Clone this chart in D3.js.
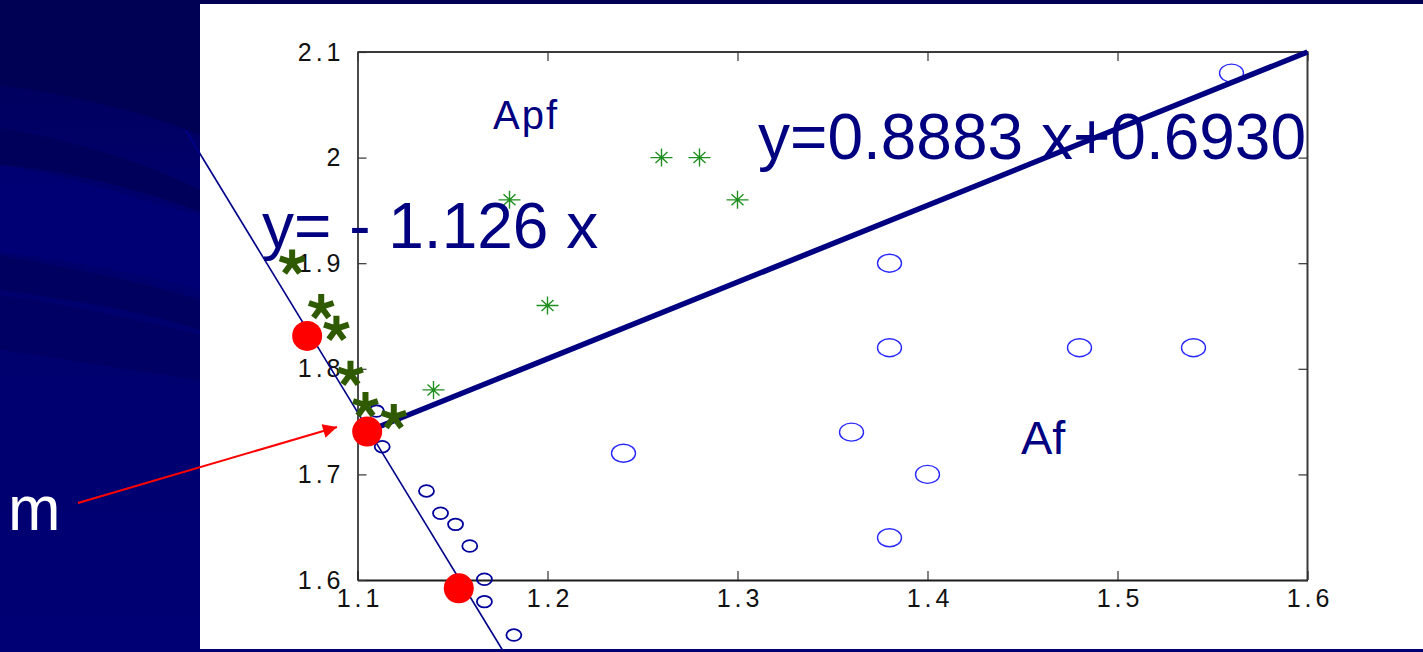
<!DOCTYPE html>
<html><head><meta charset="utf-8">
<script src="https://cdn.jsdelivr.net/npm/d3@7"></script>
<style>html,body{margin:0;padding:0;background:#000070;}svg{display:block;}</style>
</head><body>
<svg id="c" width="1423" height="652"></svg>
<script>
// ---- data ----
const xTicks = [1.1, 1.2, 1.3, 1.4, 1.5, 1.6];
const yTicks = [1.6, 1.7, 1.8, 1.9, 2.0, 2.1];
const yTickLabels = ["1.6", "1.7", "1.8", "1.9", "2", "2.1"];
const xTickLabels = ["1.1", "1.2", "1.3", "1.4", "1.5", "1.6"];
// Af class (large blue ellipses)
const afX = [1.56, 1.38, 1.38, 1.48, 1.54, 1.36, 1.24, 1.40, 1.38];
const afY = [2.08, 1.90, 1.82, 1.82, 1.82, 1.74, 1.72, 1.70, 1.64];
// Apf class (small green stars)
const apfX = [1.14, 1.18, 1.20, 1.26, 1.28, 1.30];
const apfY = [1.78, 1.96, 1.86, 2.00, 2.00, 1.96];
// boundary Apf points (big dark green asterisks)
const bApfX = [1.0656, 1.0809, 1.0889, 1.0963, 1.1042, 1.1191];
const bApfY = [1.9026, 1.8604, 1.8399, 1.7973, 1.7676, 1.7563];
// boundary Af points (small navy circles)
const bAfX = [1.1100, 1.1130, 1.1363, 1.1437, 1.1516, 1.1591, 1.1668, 1.1668, 1.1823];
const bAfY = [1.7600, 1.7262, 1.6843, 1.6632, 1.6527, 1.6322, 1.6007, 1.5795, 1.5479];
// red points
const redX = [1.0735, 1.1051, 1.1533];
const redY = [1.8311, 1.7406, 1.5921];
// lines
const fitLineX = [1.1051, 1.6];
const fitLineY = [1.7406, 2.1];
const thinLineX = [1.0095, 1.1763];
const thinLineY = [2.0261, 1.5337];
const labels = ["Apf", "Af", "y=0.8883 x+0.6930", "y= - 1.126 x", "m"];

// ---- drawing ----
const svg = d3.select("#c");
const W = 1423, H = 652;
const x = d3.scaleLinear().domain([1.1, 1.6]).range([357.5, 1307.5]);
const y = d3.scaleLinear().domain([1.6, 2.1]).range([580, 52]);

// background
const defs = svg.append("defs");
const g1 = defs.append("linearGradient").attr("id", "bg").attr("x1", 0).attr("y1", 0).attr("x2", 0).attr("y2", 1);
g1.append("stop").attr("offset", 0).attr("stop-color", "#000055");
g1.append("stop").attr("offset", 0.3).attr("stop-color", "#00006c");
g1.append("stop").attr("offset", 1).attr("stop-color", "#000074");
svg.append("rect").attr("width", W).attr("height", H).attr("fill", "url(#bg)");
const streaks = [
  {d: "M0,0 L200,0 L200,135 C140,110 70,95 0,85 Z", c: "#000054", o: 0.95},
  {d: "M0,128 C70,140 140,160 200,190 L200,212 C140,190 70,170 0,165 Z", c: "#000058", o: 0.8},
  {d: "M0,255 C70,268 140,280 200,300 L200,330 C140,310 70,300 0,290 Z", c: "#00005e", o: 0.8},
  {d: "M0,295 C70,305 140,320 200,335 L200,380 C140,372 70,360 0,350 Z", c: "#000062", o: 0.8},
  {d: "M0,165 C70,175 140,200 200,215 L200,290 C140,272 70,262 0,252 Z", c: "#000078", o: 0.7}
];
svg.selectAll("path.streak").data(streaks).enter().append("path").attr("class", "streak")
  .attr("d", d => d.d).attr("fill", d => d.c).attr("opacity", d => d.o);

// white panel
svg.append("rect").attr("x", 200).attr("y", 4).attr("width", W - 200).attr("height", 645).attr("fill", "#ffffff");

// frame (top and right)
svg.append("path")
  .attr("d", `M${x(1.1)},${y(2.1)} H${x(1.6)} V${y(1.6)}`)
  .attr("fill", "none").attr("stroke", "#3a3a3a").attr("stroke-width", 2);

const font = "'Liberation Sans', Arial, Helvetica, sans-serif";
// axes
const xAxis = d3.axisBottom(x).tickValues(xTicks).tickSizeInner(-9).tickSizeOuter(0)
  .tickFormat((d, i) => xTickLabels[i]).tickPadding(12);
const gx = svg.append("g").attr("transform", `translate(0,${y(1.6)})`).call(xAxis);
const yAxis = d3.axisLeft(y).tickValues(yTicks).tickSizeInner(-9).tickSizeOuter(0)
  .tickFormat((d, i) => yTickLabels[i]).tickPadding(17);
const gy = svg.append("g").attr("transform", `translate(${x(1.1)},0)`).call(yAxis);
// mirrored ticks top/right
const xTop = d3.axisTop(x).tickValues(xTicks).tickSizeInner(-9).tickSizeOuter(0).tickFormat("");
svg.append("g").attr("transform", `translate(0,${y(2.1)})`).call(xTop).select(".domain").remove();
const yRight = d3.axisRight(y).tickValues(yTicks).tickSizeInner(-9).tickSizeOuter(0).tickFormat("");
svg.append("g").attr("transform", `translate(${x(1.6)},0)`).call(yRight).select(".domain").remove();
svg.selectAll(".tick line").attr("stroke", "#333").attr("stroke-width", 1.2);
gx.select(".domain").attr("stroke", "#1a1a1a").attr("stroke-width", 2.2);
gy.select(".domain").attr("stroke", "#111").attr("stroke-width", 1.5);
svg.selectAll(".tick text").attr("font-family", font).attr("font-size", 25).attr("fill", "#111")
  .style("letter-spacing", "4px");
gx.selectAll(".tick text").attr("dx", "2px").attr("dy", "0.6em");
gy.selectAll(".tick text").attr("dx", "4px");

// thin line
const line = d3.line().x(d => x(d[0])).y(d => y(d[1]));
svg.append("path").datum(thinLineX.map((v, i) => [v, thinLineY[i]]))
  .attr("d", line).attr("fill", "none").attr("stroke", "#000088").attr("stroke-width", 1.6);

// small navy circles
svg.selectAll("ellipse.baf").data(bAfX).enter().append("ellipse").attr("class", "baf")
  .attr("cx", d => x(d)).attr("cy", (d, i) => y(bAfY[i])).attr("rx", 7.5).attr("ry", 5.8)
  .attr("fill", "none").attr("stroke", "#00009a").attr("stroke-width", 1.8);

// large blue ellipses
svg.selectAll("ellipse.af").data(afX).enter().append("ellipse").attr("class", "af")
  .attr("cx", d => x(d)).attr("cy", (d, i) => y(afY[i])).attr("rx", 12).attr("ry", 9)
  .attr("fill", "none").attr("stroke", "#2a2aff").attr("stroke-width", 1.4);

// small green stars
const starPath = "M-11,0H11M0,-9V9M-6,-5.5L6,5.5M-6,5.5L6,-5.5";
svg.selectAll("path.apf").data(apfX).enter().append("path").attr("class", "apf")
  .attr("transform", (d, i) => `translate(${x(d)},${y(apfY[i])})`)
  .attr("d", starPath).attr("fill", "none").attr("stroke", "#1f8f1f").attr("stroke-width", 1.4);

// thick fit line
svg.append("path").datum(fitLineX.map((v, i) => [v, fitLineY[i]]))
  .attr("d", line).attr("fill", "none").attr("stroke", "#000080").attr("stroke-width", 5.5);

// big asterisks (5 arms)
const armLen = 13;
let ast = "";
[-90, -18, 54, 126, 198].forEach(a => {
  const r = a * Math.PI / 180;
  ast += `M0,0L${(armLen * Math.cos(r)).toFixed(2)},${(armLen * Math.sin(r)).toFixed(2)}`;
});
svg.selectAll("path.bapf").data(bApfX).enter().append("path").attr("class", "bapf")
  .attr("transform", (d, i) => `translate(${x(d)},${y(bApfY[i]) + 2})`)
  .attr("d", ast).attr("fill", "none").attr("stroke", "#2f5a00").attr("stroke-width", 6);

// red points
svg.selectAll("circle.red").data(redX).enter().append("circle").attr("class", "red")
  .attr("cx", d => x(d)).attr("cy", (d, i) => y(redY[i])).attr("r", 15).attr("fill", "#ff0000");

// text annotations
const txt = (t, px, py, size, fill) => svg.append("text").text(t).attr("x", px).attr("y", py)
  .attr("font-family", font).attr("font-size", size).attr("fill", fill);
txt(labels[0], 493, 129, 40, "#000080").style("letter-spacing", "2px");
txt(labels[1], 1021, 454, 47, "#000080");
txt(labels[2], 758, 159, 64, "#000080");
txt(labels[3], 262, 248, 64, "#000080");
txt(labels[4], 8, 530, 63, "#ffffff");

// red arrow
defs.append("marker").attr("id", "ah").attr("viewBox", "0 0 10 10").attr("refX", 10).attr("refY", 5)
  .attr("markerWidth", 9).attr("markerHeight", 7).attr("markerUnits", "strokeWidth").attr("orient", "auto")
  .append("path").attr("d", "M0,0L10,5L0,10Z").attr("fill", "#ff0000");
svg.append("line").attr("x1", 78).attr("y1", 503).attr("x2", 337).attr("y2", 427)
  .attr("stroke", "#ff0000").attr("stroke-width", 2).attr("marker-end", "url(#ah)");
</script>
</body></html>
